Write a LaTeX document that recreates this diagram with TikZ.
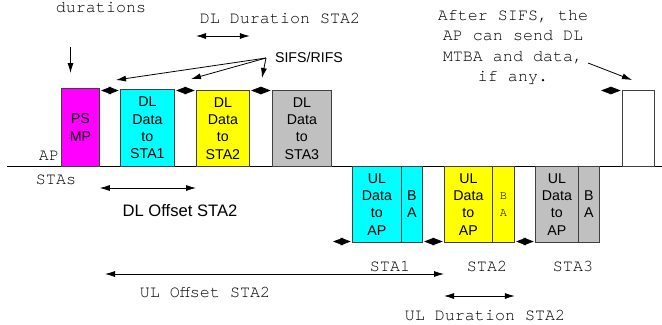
\documentclass[tikz,border=0pt]{standalone}
\usepackage{fontspec}
\setmainfont{Liberation Sans}
\newfontfamily\monof{TeX Gyre Cursor}
\usetikzlibrary{arrows.meta}
\definecolor{grayfill}{RGB}{192,192,192}
\definecolor{magfill}{RGB}{255,0,255}
\definecolor{cyanfill}{RGB}{0,255,255}
\definecolor{yelfill}{RGB}{255,255,0}
\begin{document}
\begin{tikzpicture}[x=1bp,y=-1bp,
  box/.style={draw=black!75, line width=0.8bp, inner sep=0pt, align=center, anchor=north west,
    font=\fontsize{14.2bp}{17.3bp}\selectfont},
  lbl/.style={inner sep=0pt, anchor=base, font=\monof\fontsize{16.7bp}{20.5bp}\selectfont},
  slbl/.style={inner sep=0pt, anchor=base, font=\fontsize{16.6bp}{20bp}\selectfont},
  dia/.style={{Triangle[length=10bp,width=7.5bp]}-{Triangle[length=10bp,width=7.5bp]},
    line width=0.6bp, shorten <=1.3bp, shorten >=1.3bp},
  arr/.style={-{Latex[length=10bp,width=6bp]}, line width=0.8bp},
  darr/.style={{Latex[length=10bp,width=6bp]}-{Latex[length=10bp,width=6bp]}, line width=0.8bp}]
\useasboundingbox (0,0) rectangle (662,324);

% time axis
\coordinate (t0) at (7,166);
\coordinate (t1) at (662,166);
\draw[line width=0.8bp] (t0) -- (t1);

% AP (downlink) frames
\node[box, fill=magfill, minimum width=38bp, minimum height=78bp] (psmp) at (61,88) {PS\\MP};
\node[box, fill=cyanfill, minimum width=54bp, minimum height=77bp] (dl1) at (120,89) {DL\\Data\\to\\STA1};
\node[box, fill=yelfill, minimum width=53bp, minimum height=76bp] (dl2) at (196,90) {DL\\Data\\to\\STA2};
\node[box, fill=grayfill, minimum width=59bp, minimum height=76bp] (dl3) at (272,90) {DL\\Data\\to\\STA3};
\node[box, fill=white, minimum width=32bp, minimum height=76bp] (fin) at (622,90) {};

% STA (uplink) frames
\node[box, fill=cyanfill, minimum width=49bp, minimum height=76bp] (ul1) at (352,166) {UL\\Data\\to\\AP};
\node[box, fill=cyanfill, minimum width=21bp, minimum height=76bp] (ba1) at (401,166) {B\\A};
\node[box, fill=yelfill, minimum width=48bp, minimum height=76bp] (ul2) at (444,166) {UL\\Data\\to\\AP};
\node[box, fill=yelfill, minimum width=22bp, minimum height=76bp,
      font=\monof\fontsize{12bp}{17.3bp}\selectfont] (ba2) at (492,166) {B\\A};
\node[box, fill=grayfill, minimum width=43bp, minimum height=76bp] (ul3) at (535,166) {UL\\Data\\to\\AP};
\node[box, fill=grayfill, minimum width=21bp, minimum height=76bp] (ba3) at (578,166) {B\\A};

% SIFS gaps
\draw[dia] (psmp.east |- 0,90.5) -- (dl1.west |- 0,90.5);
\draw[dia] (dl1.east |- 0,90.5) -- (dl2.west |- 0,90.5);
\draw[dia] (dl2.east |- 0,90.5) -- (dl3.west |- 0,90.5);
\draw[dia] (ba3.east |- 0,90.5) -- (fin.west |- 0,90.5);
\draw[dia] (dl3.east |- 0,241.5) -- (ul1.west |- 0,241.5);
\draw[dia] (ba1.east |- 0,241.5) -- (ul2.west |- 0,241.5);
\draw[dia] (ba2.east |- 0,241.5) -- (ul3.west |- 0,241.5);

% labels
\node[lbl] (durl) at (101,12.5) {durations};
\coordinate (da0) at (70.5,47);
\coordinate (da1) at (70.5,73);
\draw[arr] (da0) -- (da1);

\node[lbl] (dldur) at (280,23) {DL Duration STA2};
\draw[darr] (dl2.west |- 0,36) -- (dl2.east |- 0,36);

\node[inner sep=0pt, anchor=base, font=\fontsize{14.2bp}{17bp}\selectfont] (sifs) at (309,62) {SIFS/RIFS};
\coordinate (s0) at (266,58);
\coordinate (s1) at (116,80);
\coordinate (s2) at (191,79);
\coordinate (s3) at (262,78);
\draw[arr] (s0) -- (s1);
\draw[arr] (s0) -- (s2);
\draw[arr] (s0) -- (s3);

\node[inner sep=0pt, anchor=north, align=center, font=\monof\fontsize{16.7bp}{20.5bp}\selectfont] (after) at (513,10)
  {After SIFS, the\\AP can send DL\\MTBA and data,\\if any.};
\coordinate (a0) at (588,63);
\coordinate (a1) at (632,80);
\draw[arr] (a0) -- (a1);

\node[lbl] (aplbl) at (49,160.5) {AP};
\node[lbl] (stas) at (56,184.5) {STAs};

\draw[darr] (psmp.east |- 0,188) -- (dl2.west |- 0,188);
\node[slbl] (dloff) at (180,216) {DL Offset STA2};

\node[lbl] (sta1) at (390,271) {STA1};
\node[lbl] (sta2) at (487,271) {STA2};
\node[lbl] (sta3) at (573,271) {STA3};

\coordinate (uo0) at (105,274);
\draw[darr] (uo0) -- (ul2.west |- 0,274);
\node[lbl] (uloff) at (205,297) {UL Offset STA2};

\draw[darr] (ul2.west |- 0,296) -- (ba2.east |- 0,296);
\node[lbl] (uldur) at (485,320) {UL Duration STA2};
\end{tikzpicture}
\end{document}
